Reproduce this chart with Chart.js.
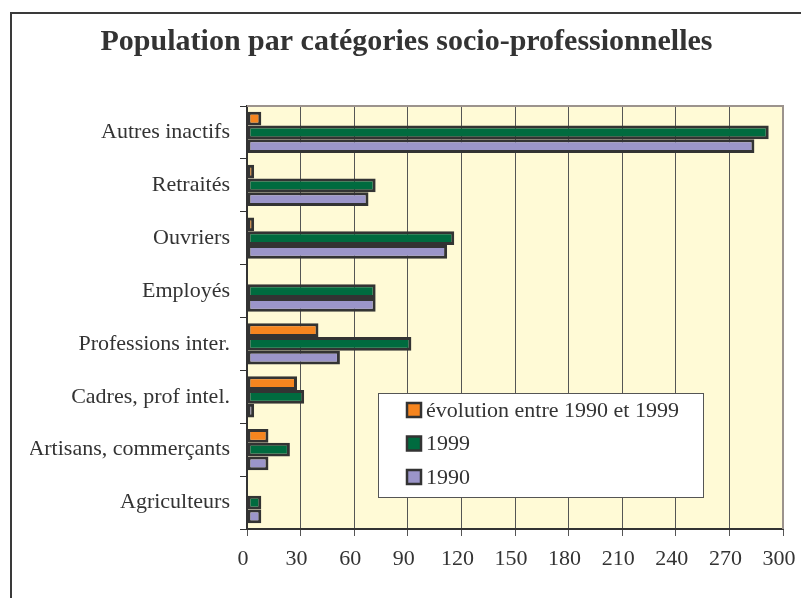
<!DOCTYPE html>
<html>
<head>
<meta charset="utf-8">
<script src="https://cdn.jsdelivr.net/npm/chart.js@4.4.0/dist/chart.umd.min.js"></script>
<style>
  html, body { margin: 0; padding: 0; background: #fff; overflow: hidden; }
  #wrap { position: relative; width: 801px; height: 598px; }
  #frame {
    position: absolute; left: 10px; top: 12px; width: 900px; height: 700px;
    border-left: 2px solid #3a3a3a; border-top: 2px solid #3a3a3a;
  }
  canvas { position: absolute; left: 0; top: 0; }
</style>
</head>
<body>
<div id="wrap">
  <div id="frame"></div>
  <canvas id="myChart" width="801" height="598"></canvas>
</div>
<script>
// --- DATA ---
const categories = [
  "Autres inactifs",
  "Retraités",
  "Ouvriers",
  "Employés",
  "Professions inter.",
  "Cadres, prof intel.",
  "Artisans, commerçants",
  "Agriculteurs",
];
const evolution = [8, 4, 4, 0, 40, 28, 12, 0];
const values1999 = [292, 72, 116, 72, 92, 32, 24, 8];
const values1990 = [284, 68, 112, 72, 52, 4, 12, 8];
const seriesNames = ["évolution entre 1990 et 1999", "1999", "1990"];
const seriesColors = ["#F6851F", "#006B3F", "#9B95C9"];
const xTicks = [0, 30, 60, 90, 120, 150, 180, 210, 240, 270, 300];
// ------------------

const serif = "'Liberation Serif', 'Times New Roman', Times, serif";
const textColor = "#333333";

// --- plot background + top/right border ---
const plotBox = {
  id: "plotBox",
  beforeDraw(chart) {
    const { ctx, chartArea: { left, top, width, height } } = chart;
    ctx.save();
    ctx.fillStyle = "#FFFAD6";
    ctx.fillRect(left, top, width, height);
    ctx.restore();
  },
  afterDraw(chart) {
    const { ctx, chartArea: { left, top, right, bottom } } = chart;
    ctx.save();
    ctx.strokeStyle = "#9C938D";
    ctx.lineWidth = 2;
    ctx.beginPath();
    ctx.moveTo(left, top);
    ctx.lineTo(right, top);
    ctx.lineTo(right, bottom);
    ctx.stroke();
    ctx.restore();
  },
};

// --- boxed legend inside the plot ---
const boxLegend = {
  id: "boxLegend",
  afterDraw(chart, args, opts) {
    const { ctx } = chart;
    const x = opts.x, y = opts.y, w = opts.w, h = opts.h;
    ctx.save();
    ctx.fillStyle = "#ffffff";
    ctx.fillRect(x, y, w, h);
    ctx.strokeStyle = "#555555";
    ctx.lineWidth = 1;
    ctx.strokeRect(x + 0.5, y + 0.5, w, h);
    ctx.font = "22px " + serif;
    ctx.textBaseline = "middle";
    chart.data.datasets.forEach((ds, i) => {
      const cy = y + opts.first + i * opts.step;
      ctx.fillStyle = ds.backgroundColor;
      ctx.fillRect(x + 29, cy - 7, 14, 14);
      ctx.strokeStyle = "#333333";
      ctx.lineWidth = 2.5;
      ctx.strokeRect(x + 29, cy - 7, 14, 14);
      ctx.fillStyle = textColor;
      ctx.fillText(ds.label, x + 48, cy + 1);
    });
    ctx.restore();
  },
};

const makeSet = (i, values) => ({
  label: seriesNames[i],
  data: values,
  backgroundColor: seriesColors[i],
  borderColor: "#333333",
  borderWidth: 3,
  borderSkipped: false,
  barPercentage: 1,
  categoryPercentage: 0.78,
});

const config = {
  type: "bar",
  data: {
    labels: categories,
    datasets: [
      makeSet(0, evolution),
      makeSet(1, values1999),
      makeSet(2, values1990),
    ],
  },
  options: {
    indexAxis: "y",
    responsive: false,
    animation: false,
    layout: { padding: { left: 30, right: 18, top: 0, bottom: 0 } },
    plugins: {
      legend: { display: false },
      tooltip: { enabled: false },
      title: {
        display: true,
        text: "Population par catégories socio-professionnelles",
        color: textColor,
        font: { family: serif, size: 30, weight: "bold" },
        padding: { top: 24, bottom: 46 },
      },
      boxLegend: { x: 378, y: 393, w: 325, h: 104, first: 17, step: 33.5 },
    },
    scales: {
      x: {
        min: 0,
        max: 300,
        afterBuildTicks: (scale) => {
          scale.ticks = xTicks.map((v) => ({ value: v }));
        },
        afterFit: (scale) => {
          scale.height = 69;
          scale.paddingLeft = 0;
          scale.paddingRight = 0;
        },
        grid: { color: "#555555", lineWidth: 1, tickLength: 7, drawTicks: true },
        border: { display: true, color: "#333333", width: 2 },
        ticks: {
          color: textColor,
          font: { family: serif, size: 22 },
          padding: 10,
          labelOffset: -4,
          maxRotation: 0,
        },
      },
      y: {
        afterFit: (scale) => { scale.width = 217; },
        grid: { drawOnChartArea: false, color: "#333333", tickLength: 7, offset: true },
        border: { display: true, color: "#333333", width: 2 },
        ticks: {
          color: textColor,
          font: { family: serif, size: 22 },
          padding: 10,
        },
      },
    },
  },
  plugins: [plotBox, boxLegend],
};

const myChart = new Chart(document.getElementById("myChart"), config);
</script>
</body>
</html>
